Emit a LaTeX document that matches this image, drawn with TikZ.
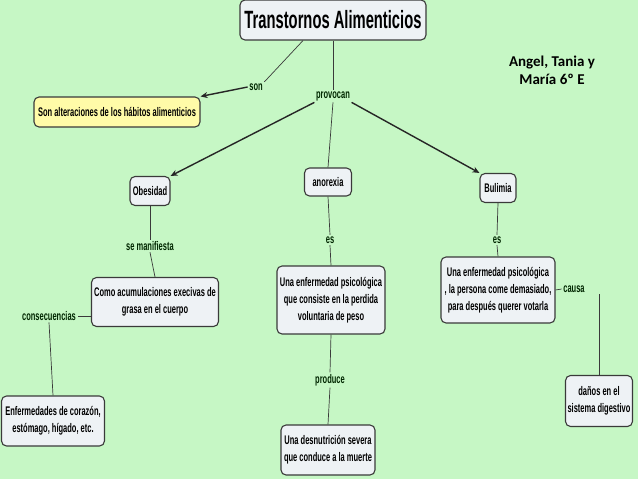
\documentclass[tikz,border=0pt]{standalone}
\usepackage{fontspec}
\setmainfont{Liberation Sans}
\newfontfamily\cond[FakeStretch=0.6]{Liberation Sans}
\newfontfamily\condt[FakeStretch=0.59]{Liberation Sans}
\newfontfamily\calib{Carlito}
\usetikzlibrary{arrows.meta}
\definecolor{bg}{HTML}{C6F7C5}
\definecolor{boxfill}{HTML}{EEF2F5}
\definecolor{yel}{HTML}{FFFBA8}
\definecolor{edge}{HTML}{3A3A3A}
\tikzset{
  box/.style={draw=edge, line width=1.1pt, rounded corners=5pt, fill=boxfill,
    align=center, inner sep=2pt, font=\cond\bfseries\fontsize{12.5}{17}\selectfont},
  lbl/.style={inner sep=1.5pt, font=\cond\bfseries\fontsize{12.5}{15}\selectfont, text=black!85!green},
  con/.style={draw=edge, line width=0.7pt},
  arr/.style={draw=black!85, line width=1.4pt, -{Stealth[length=7pt,width=6pt]}}
}
\begin{document}
\begin{tikzpicture}[x=1pt,y=-1pt]
\fill[bg] (0,0) rectangle (638,479);
\useasboundingbox (0,0) rectangle (638,479);

\node[box, minimum width=186pt, minimum height=40pt, font=\condt\bfseries\fontsize{25}{27}\selectfont] (title) at (333,20) {Transtornos Alimenticios};
\node[box, fill=yel, minimum width=166pt, minimum height=30pt] (alt) at (117,112) {Son alteraciones de los hábitos alimenticios};
\node[box, minimum width=40pt, minimum height=29pt] (obe) at (150,191) {Obesidad};
\node[box, minimum width=47pt, minimum height=28pt] (ano) at (328,182) {anorexia};
\node[box, minimum width=36pt, minimum height=29pt] (bul) at (498,188) {Bulimia};
\node[box, minimum width=127pt, minimum height=49pt] (como) at (155,302) {Como acumulaciones execivas de\\grasa en el cuerpo};
\node[box, minimum width=108pt, minimum height=68pt] (anod) at (331,300) {Una enfermedad psicológica\\que consiste en la perdida\\voluntaria de peso};
\node[box, minimum width=114pt, minimum height=66pt] (buld) at (498,290) {Una enfermedad psicológica\\, la persona come demasiado,\\para después querer votarla};
\node[box, minimum width=103pt, minimum height=50pt] (enf) at (53,421) {Enfermedades de corazón,\\estómago, hígado, etc.};
\node[box, minimum width=94pt, minimum height=50pt] (des) at (328,450) {Una desnutrición severa\\que conduce a la muerte};
\node[box, minimum width=66pt, minimum height=51pt] (dan) at (599,401) {daños en el\\sistema digestivo};

\node[lbl] (son) at (256,87) {son};
\node[lbl] (prov) at (333,96) {provocan};
\node[lbl] (sem) at (150,246) {se manifiesta};
\node[lbl] (es1) at (330,240) {es};
\node[lbl] (es2) at (497,240) {es};
\node[lbl] (cons) at (49,316) {consecuencias};
\node[lbl] (prod) at (330,380) {produce};
\node[lbl] (cau) at (574,289) {causa};

\node[font=\calib\bfseries\fontsize{15}{18}\selectfont, align=center] (auth) at (552,70) {Angel, Tania y\\María 6º E};

\draw[con] (title.south -| 303,0) -- (son.north east);
\draw[arr] (son.west) -- (alt.north east);
\draw[con] (title.south) -- (prov.north);
\draw[arr] (prov.south west) -- (obe.north east);
\draw[con] (prov.south) -- (ano.north);
\draw[arr] (prov.south east) -- (bul.north west);
\draw[con] (obe.south) -- (sem.north);
\draw[con] (sem.south) -- (como.north);
\draw[con] (ano.south) -- (es1.north);
\draw[con] (es1.south) -- (anod.north);
\draw[con] (bul.south) -- (es2.north);
\draw[con] (es2.south) -- (buld.north);
\draw[con] (como.west |- cons.east) -- (cons.east);
\draw[con] (cons.south) -- (enf.north);
\draw[con] (anod.south) -- (prod.north);
\draw[con] (prod.south) -- (des.north);
\draw[con] (buld.east) -- (cau.west);
\draw[con] (cau.south -| dan.north) -- (dan.north);
\end{tikzpicture}
\end{document}
